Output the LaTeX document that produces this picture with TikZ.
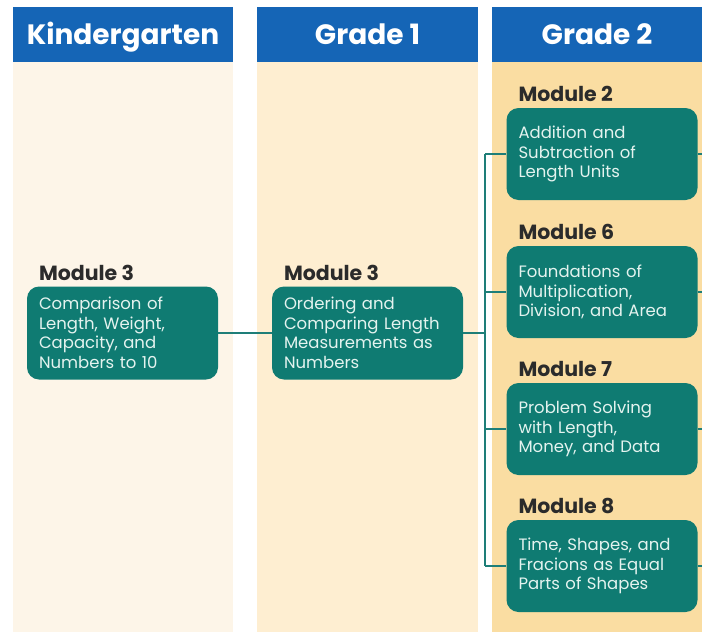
\documentclass[tikz,border=0pt]{standalone}
\usepackage{fontspec}
\setmainfont{Poppins}
\definecolor{hdrblue}{HTML}{1565B6}
\definecolor{bodyK}{HTML}{FDF5E8}
\definecolor{bodyA}{HTML}{FEEED1}
\definecolor{bodyB}{HTML}{FADDA2}
\definecolor{boxteal}{HTML}{0F7B72}
\definecolor{lineteal}{HTML}{1E7E78}
\definecolor{boxtext}{HTML}{E4F3EF}
\definecolor{modtext}{HTML}{2B2B2B}
\begin{document}
\begin{tikzpicture}[x=1pt,y=-1pt,
  header/.style={fill=hdrblue,draw=none,minimum height=55pt,inner sep=0pt,text=white,
    text height=20pt,text depth=0pt,
    font=\fontsize{28}{30}\selectfont\bfseries},
  modbox/.style={fill=boxteal,draw=none,rounded corners=12pt,minimum width=190pt,minimum height=93pt,
    text width=167pt,inner xsep=12pt,align=left,text=boxtext,
    font=\fontsize{16.5}{19.5}\selectfont},
  modlabel/.style={anchor=base west,inner sep=0pt,text=modtext,font=\fontsize{20.5}{22}\selectfont\bfseries},
  conn/.style={draw=lineteal,line width=2pt}]
\useasboundingbox (0,0) rectangle (702,632);
% column bodies
\fill[bodyK] (13,62) rectangle (233,632);
\fill[bodyA] (257,62) rectangle (478,632);
\fill[bodyB] (492,62) rectangle (702,632);
% headers
\node[header,minimum width=220pt] (hK) at (123,34.5) {Kindergarten};
\node[header,minimum width=221pt] (h1) at (367.5,34.5) {Grade 1};
\node[header,minimum width=210pt] (h2) at (597,34.5) {Grade 2};
% boxes
\node[modbox,minimum width=189pt] (k3) at (122.5,333) {Comparison of\\Length, Weight,\\Capacity, and\\Numbers to 10};
\node[modbox,minimum width=189pt] (g13) at (367.5,333) {Ordering and\\Comparing Length\\Measurements as\\Numbers};
\node[modbox,minimum height=92pt] (m2) at (602,154) {Addition and\\Subtraction of\\Length Units};
\node[modbox,minimum height=92pt] (m6) at (602,292) {Foundations of\\Multiplication,\\Division, and Area};
\node[modbox,minimum height=92pt] (m7) at (602,429) {Problem Solving\\with Length,\\Money, and Data};
\node[modbox,minimum height=92pt] (m8) at (602,566) {Time, Shapes, and\\Fracions as Equal\\Parts of Shapes};
% labels
\node[modlabel] (lk3) at ([xshift=12pt,yshift=6pt]k3.north west) {Module 3};
\node[modlabel] (lg13) at ([xshift=12pt,yshift=6pt]g13.north west) {Module 3};
\node[modlabel] (l2) at ([xshift=12pt,yshift=6pt]m2.north west) {Module 2};
\node[modlabel] (l6) at ([xshift=12pt,yshift=6pt]m6.north west) {Module 6};
\node[modlabel] (l7) at ([xshift=12pt,yshift=6pt]m7.north west) {Module 7};
\node[modlabel] (l8) at ([xshift=12pt,yshift=6pt]m8.north west) {Module 8};
% connectors
\coordinate (j) at (485,333);
\coordinate (t2) at (485,154);
\coordinate (t6) at (485,292);
\coordinate (t7) at (485,429);
\coordinate (t8) at (485,566);
\coordinate (r2) at (702,154);
\coordinate (r6) at (702,292);
\coordinate (r7) at (702,429);
\coordinate (r8) at (702,566);
\draw[conn] (k3.east) -- (g13.west);
\draw[conn] (g13.east) -- (j);
\draw[conn] (t2) -- (t8);
\draw[conn] (t2) -- (m2.west);
\draw[conn] (t6) -- (m6.west);
\draw[conn] (t7) -- (m7.west);
\draw[conn] (t8) -- (m8.west);
\draw[conn] (m2.east) -- (r2);
\draw[conn] (m6.east) -- (r6);
\draw[conn] (m7.east) -- (r7);
\draw[conn] (m8.east) -- (r8);
\end{tikzpicture}
\end{document}
